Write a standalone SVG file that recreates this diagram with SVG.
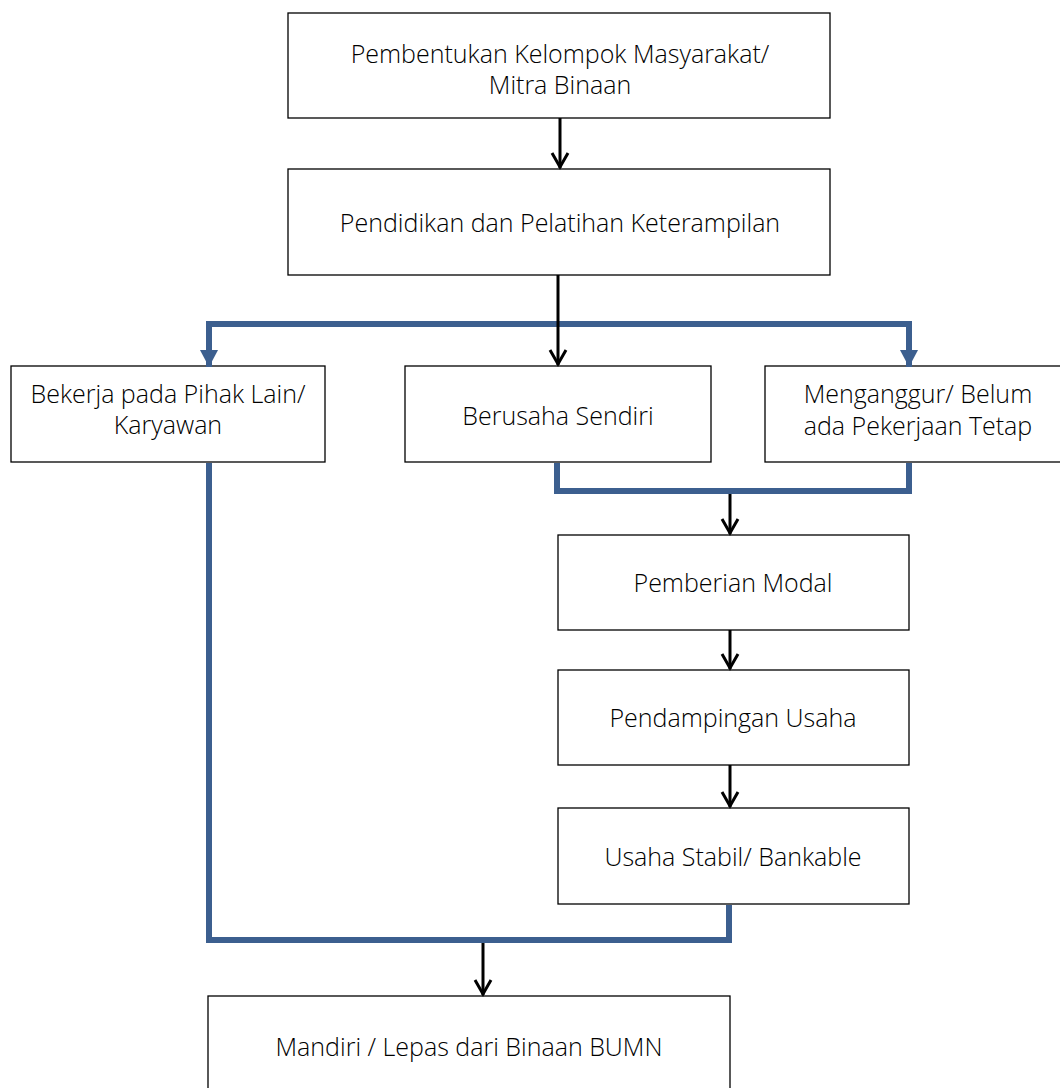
<svg xmlns="http://www.w3.org/2000/svg" width="1060" height="1088" viewBox="0 0 1060 1088">
<style>
.box{fill:#fff;stroke:#000;stroke-width:1.3}
.t{font-family:"Open Sans","Noto Sans","DejaVu Sans",sans-serif;font-weight:300;font-size:25px;fill:#000;text-anchor:middle;dominant-baseline:central}
.blk{fill:none;stroke:#000;stroke-width:3}
.blue{fill:none;stroke:#3C5F8F;stroke-width:6;stroke-linejoin:miter}
</style>
<defs>
<marker id="open" markerUnits="userSpaceOnUse" markerWidth="30" markerHeight="30" viewBox="-20 -15 30 30" refX="0" refY="0" orient="auto">
<path d="M-15 -8 L-1 0 L-15 8" fill="none" stroke="#000" stroke-width="3"/>
</marker>
<marker id="tri" markerUnits="userSpaceOnUse" markerWidth="30" markerHeight="30" viewBox="-20 -15 30 30" refX="0" refY="0" orient="auto">
<path d="M-17 -9 L-17 9 L0 0 Z" fill="#3C5F8F"/>
</marker>
</defs>
<g id="n1"><rect class="box" x="288" y="13" width="542" height="105"/>
<text class="t" x="560" y="53">Pembentukan Kelompok Masyarakat/</text>
<text class="t" x="560" y="84">Mitra Binaan</text></g>
<g id="n2"><rect class="box" x="288" y="169" width="542" height="106"/>
<text class="t" x="560" y="222">Pendidikan dan Pelatihan Keterampilan</text></g>
<g id="n3"><rect class="box" x="11" y="366" width="314" height="96"/>
<text class="t" x="168" y="393">Bekerja pada Pihak Lain/</text>
<text class="t" x="168" y="424">Karyawan</text></g>
<g id="n4"><rect class="box" x="405" y="366" width="306" height="96"/>
<text class="t" x="558" y="415">Berusaha Sendiri</text></g>
<g id="n5"><rect class="box" x="765" y="366" width="306" height="96"/>
<text class="t" x="918" y="393">Menganggur/ Belum</text>
<text class="t" x="918" y="425">ada Pekerjaan Tetap</text></g>
<g id="n6"><rect class="box" x="558" y="535" width="351" height="95"/>
<text class="t" x="733" y="582">Pemberian Modal</text></g>
<g id="n7"><rect class="box" x="558" y="670" width="351" height="95"/>
<text class="t" x="733" y="717">Pendampingan Usaha</text></g>
<g id="n8"><rect class="box" x="558" y="808" width="351" height="96"/>
<text class="t" x="733" y="856">Usaha Stabil/ Bankable</text></g>
<g id="n9"><rect class="box" x="208" y="996" width="522" height="100"/>
<text class="t" x="469" y="1046">Mandiri / Lepas dari Binaan BUMN</text></g>
<g id="connectors">
<path class="blue" d="M209 340 V324 H909 V340"/>
<line x1="209" y1="335" x2="209" y2="367" stroke="#3C5F8F" stroke-width="6" marker-end="url(#tri)"/>
<line x1="909" y1="335" x2="909" y2="367" stroke="#3C5F8F" stroke-width="6" marker-end="url(#tri)"/>
<path class="blue" d="M557 463 V491 H909 V463"/>
<path class="blue" d="M209 463 V940 H729 V905"/>
<line class="blk" x1="560" y1="118" x2="560" y2="168" marker-end="url(#open)"/>
<line class="blk" x1="558" y1="275" x2="558" y2="365" marker-end="url(#open)"/>
<line class="blk" x1="730" y1="494" x2="730" y2="534" marker-end="url(#open)"/>
<line class="blk" x1="730" y1="630" x2="730" y2="669" marker-end="url(#open)"/>
<line class="blk" x1="730" y1="765" x2="730" y2="807" marker-end="url(#open)"/>
<line class="blk" x1="483" y1="943" x2="483" y2="995" marker-end="url(#open)"/>
</g>
</svg>
